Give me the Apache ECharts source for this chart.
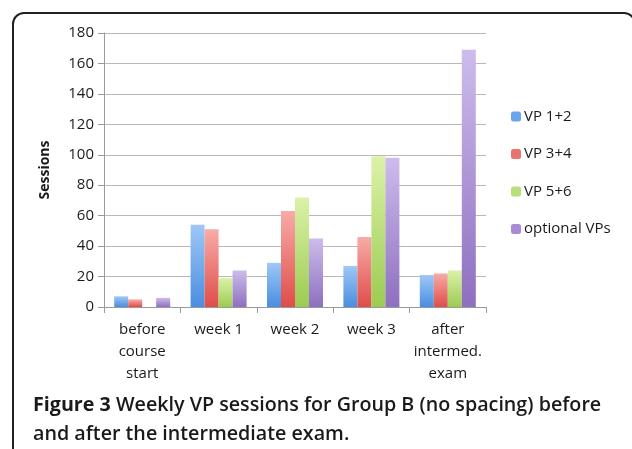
<!DOCTYPE html>
<html>
<head>
  <meta charset="utf-8">
  <title>Weekly VP sessions, Group B</title>
  <script src="https://cdn.jsdelivr.net/npm/echarts@6/dist/echarts.min.js"></script>
  <style>
    html, body { margin: 0; padding: 0; background: #fff; }
    #frame {
      position: absolute; left: 12px; top: 12px; width: 624px; height: 460px;
      border: 2px solid #222; border-radius: 12px; box-sizing: border-box;
    }
    #chart { position: absolute; left: 0; top: 0; width: 632px; height: 449px; }
    #caption {
      position: absolute; left: 33px; top: 389px; width: 575px;
      font-family: "Open Sans", Lato, sans-serif; font-size: 19.7px; line-height: 29px;
      color: #1a1a1a; font-weight: 600;
    }
    #caption b { font-weight: 700; }
  </style>
</head>
<body>
<div id="frame"></div>
<div id="chart"></div>
<div id="caption"><b>Figure 3</b> Weekly VP sessions for Group B (no spacing) before and after the intermediate exam.</div>

<script>
  var categories = ['before\ncourse\nstart', 'week 1', 'week 2', 'week 3', 'after\nintermed.\nexam'];
  var vp12 = [7, 54, 29, 27, 21];
  var vp34 = [5, 51, 63, 46, 22];
  var vp56 = [0, 19, 72, 99, 24];
  var optionalVPs = [6, 24, 45, 98, 169];
  var yTicks = [0, 20, 40, 60, 80, 100, 120, 140, 160, 180];

  // light top, darker bottom like the original spreadsheet bars
  function grad(top, bottom) {
    return new echarts.graphic.LinearGradient(0, 0, 0, 1, [
      {offset: 0, color: top},
      {offset: 1, color: bottom}
    ]);
  }

  var font = '"Open Sans", Lato, sans-serif';

  var chart = echarts.init(document.getElementById('chart'));
  chart.setOption({
    animation: false,
    grid: {left: 104, right: 146, top: 33, bottom: 142},
    legend: {
      orient: 'vertical',
      left: 506,
      top: 104,
      itemWidth: 10,
      itemHeight: 10,
      itemGap: 22.5,
      itemStyle: {borderWidth: 0},
      textStyle: {fontFamily: font, fontSize: 15, color: '#1a1a1a', padding: [0, 0, 0, -2]},
      data: [
        {name: 'VP 1+2', itemStyle: {color: '#6aa6ec'}},
        {name: 'VP 3+4', itemStyle: {color: '#ea7370'}},
        {name: 'VP 5+6', itemStyle: {color: '#b8df7a'}},
        {name: 'optional VPs', itemStyle: {color: '#a88bd4'}}
      ]
    },
    xAxis: {
      type: 'category',
      data: categories,
      axisLine: {lineStyle: {color: '#9a9a9a', width: 1}},
      axisTick: {show: true, length: 6, lineStyle: {color: '#9a9a9a'}},
      axisLabel: {interval: 0, fontFamily: font, fontSize: 15, color: '#1a1a1a', lineHeight: 22, margin: 12}
    },
    yAxis: {
      type: 'value',
      min: yTicks[0],
      max: yTicks[yTicks.length - 1],
      interval: 20,
      name: 'Sessions',
      nameLocation: 'middle',
      nameGap: 52,
      nameTextStyle: {fontFamily: font, fontSize: 14, fontWeight: 'bold', color: '#1a1a1a'},
      axisLine: {show: true, lineStyle: {color: '#9a9a9a'}},
      axisTick: {show: true, length: 6, lineStyle: {color: '#9a9a9a'}},
      axisLabel: {fontFamily: font, fontSize: 15, color: '#1a1a1a', margin: 10},
      splitLine: {lineStyle: {color: '#b8b8b8', width: 1}}
    },
    series: [
      {name: 'VP 1+2', type: 'bar', data: vp12, barWidth: 14, barGap: '0%',
        itemStyle: {color: grad('#9ec8f7', '#4a8de0')}},
      {name: 'VP 3+4', type: 'bar', data: vp34, barWidth: 14, barGap: '0%',
        itemStyle: {color: grad('#f8aba8', '#df4d49')}},
      {name: 'VP 5+6', type: 'bar', data: vp56, barWidth: 14, barGap: '0%',
        itemStyle: {color: grad('#dbf2a8', '#9ccb52')}},
      {name: 'optional VPs', type: 'bar', data: optionalVPs, barWidth: 14, barGap: '0%',
        itemStyle: {color: grad('#cdbcec', '#8e6fc0')}}
    ]
  });
</script>
</body>
</html>
